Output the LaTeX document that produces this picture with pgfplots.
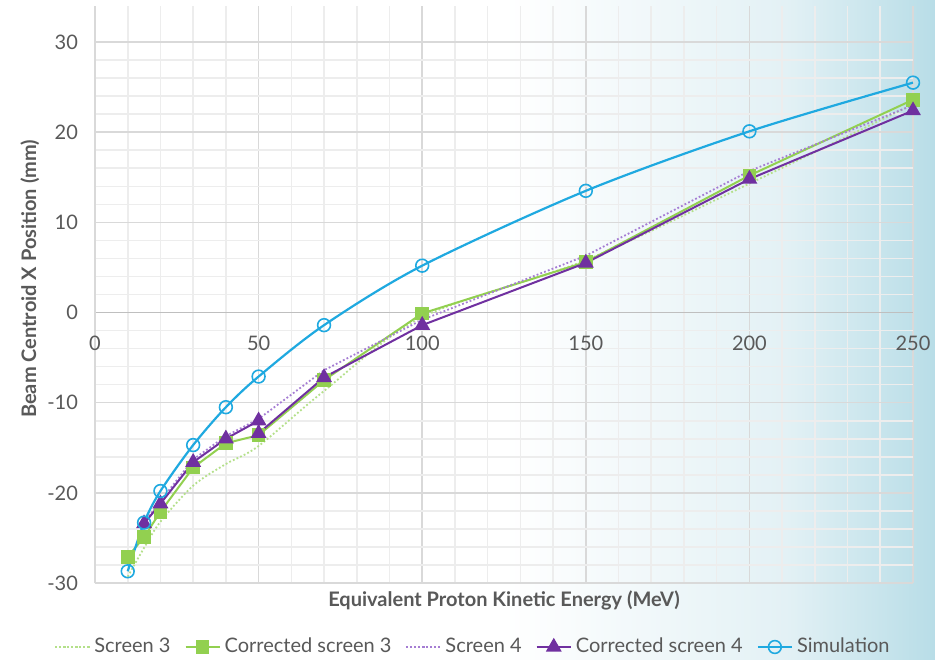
\documentclass[border=0pt]{standalone}
\usepackage{pgfplots}
\pgfplotsset{compat=1.18}
\usepackage{fontspec}
\setmainfont{Lato}
\definecolor{txt}{HTML}{595959}
\definecolor{bgblue}{HTML}{B8DDE7}
\definecolor{bgmid}{HTML}{E3F1F5}
\definecolor{simblue}{HTML}{1FA9E0}
\definecolor{cgreen}{HTML}{92D050}
\definecolor{lgreen}{HTML}{B4E08A}
\definecolor{cpurple}{HTML}{7030A0}
\definecolor{lpurple}{HTML}{A57DD3}
\definecolor{majgrid}{HTML}{D9D9D9}
\definecolor{mingrid}{HTML}{EDEDED}
\definecolor{axisgray}{HTML}{BFBFBF}
\pgfdeclarehorizontalshading{bgshade}{100bp}{color(0bp)=(white); color(52bp)=(white); color(67bp)=(bgmid); color(75bp)=(bgblue); color(100bp)=(bgblue)}
\begin{document}
\begin{tikzpicture}
\shade[shading=bgshade] (0,0) rectangle (467.5pt,329.5pt);
\useasboundingbox (0,0) rectangle (467.5pt,329.5pt);
\begin{axis}[
  at={(47.5pt,38pt)}, anchor=south west,
  scale only axis, width=409pt, height=288.5pt,
  xmin=0, xmax=250, ymin=-30, ymax=34,
  axis x line=middle, axis y line=left,
  axis line style={-},
  x axis line style={draw=axisgray, line width=0.8pt},
  y axis line style={draw=majgrid, line width=0.8pt},
  xtick={0,50,...,250}, ytick={-30,-20,...,30},
  minor x tick num=4, minor y tick num=4,
  grid=both,
  major grid style={draw=majgrid, line width=0.8pt},
  minor grid style={draw=mingrid, line width=0.8pt},
  major tick length=0pt, minor tick length=0pt,
  tick label style={font=\fontsize{10}{12}\selectfont, text=txt},
  /pgf/number format/assume math mode=true,
  hide obscured x ticks=false, hide obscured y ticks=false,
  xticklabel style={yshift=-8pt},
  yticklabel style={xshift=-5pt},
  xlabel={Equivalent Proton Kinetic Energy (MeV)},
  ylabel={Beam Centroid X Position (mm)},
  every axis x label/.style={at={(axis description cs:0.5,-0.0295)}, anchor=center, font=\bfseries\fontsize{10}{12}\selectfont, text=txt},
  every axis y label/.style={at={(axis description cs:-0.0795,0.527)}, rotate=90, anchor=center, font=\bfseries\fontsize{10}{12}\selectfont, text=txt},
  legend columns=5,
  legend style={at={(axis description cs:0.4633,-0.1109)}, anchor=center, draw=none, fill=none, font=\fontsize{10}{12}\selectfont, text=txt, /tikz/every even column/.append style={column sep=5pt}},
  legend cell align=left,
]
\addplot[lgreen, line width=0.9pt, dash pattern=on 0.9pt off 1.1pt, smooth] coordinates {(10,-29.3)(15,-26.1)(20,-23.2)(30,-19.2)(40,-16.8)(50,-14.8)(70,-8.7)(100,-0.5)(150,5.8)(200,14.3)(250,23.1)};
\addlegendentry{Screen 3}
\addplot[cgreen, line width=1pt, mark=square*, mark size=2.9pt] coordinates {(10,-27.1)(15,-24.9)(20,-22.1)(30,-17.2)(40,-14.5)(50,-13.6)(70,-7.5)(100,-0.1)(150,5.6)(200,15.2)(250,23.6)};
\addlegendentry{Corrected screen 3}
\addplot[lpurple, line width=0.9pt, dash pattern=on 0.9pt off 1.1pt] coordinates {(15,-23.3)(20,-20.9)(30,-16.3)(40,-13.7)(50,-11.8)(70,-6.4)(100,-0.8)(150,6.3)(200,15.7)(250,23.0)};
\addlegendentry{Screen 4}
\addplot[cpurple, line width=1pt, mark=triangle*, mark size=3.6pt] coordinates {(15,-23.4)(20,-21.2)(30,-16.6)(40,-14.0)(50,-12.0)(50,-13.4)(70,-7.2)(100,-1.4)(150,5.5)(200,14.8)(250,22.4)};
\addlegendentry{Corrected screen 4}
\addplot[simblue, line width=1.1pt, smooth, mark=o, mark size=3.2pt, mark options={solid, fill=none, line width=0.8pt}] coordinates {(10,-28.7)(15,-23.3)(20,-19.8)(30,-14.7)(40,-10.5)(50,-7.1)(70,-1.4)(100,5.2)(150,13.5)(200,20.1)(250,25.5)};
\addlegendentry{Simulation}
\end{axis}
\end{tikzpicture}
\end{document}
